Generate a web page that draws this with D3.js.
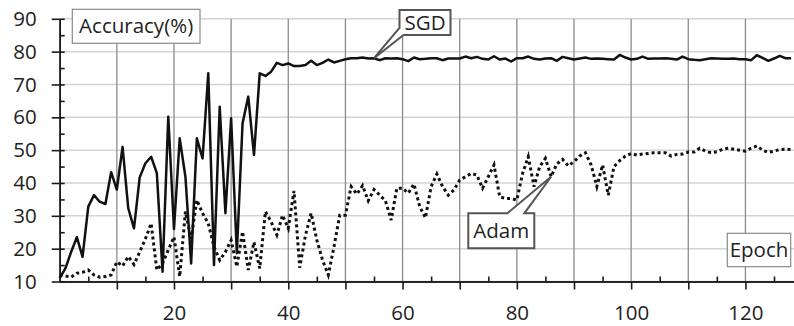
<!DOCTYPE html>
<html>
<head>
<meta charset="utf-8">
<script src="https://cdn.jsdelivr.net/npm/d3@7"></script>
<style>
  body { margin: 0; background: #fff; }
  svg { display: block; font-family: "Open Sans", "Noto Sans", sans-serif; }
</style>
</head>
<body>
<svg id="chart" width="794" height="326"></svg>
<script>
// accuracy per epoch
const sgd = [11, 14, 19, 23.5, 17.5, 32.8, 36.3, 34.3, 33.6, 43.3, 38, 51, 32.3, 26.2, 41.7, 46, 48, 43, 13, 60.2,
  26, 53.6, 41.9, 15.5, 53.6, 47.5, 73.4, 15, 63.2, 30.8, 59.7, 18.6, 58.2, 66.3, 48.5, 73.4, 72.6, 73.9, 76.6, 75.9,
  76.4, 75.6, 75.6, 75.9, 77.2, 75.9, 76.6, 77.6, 76.7, 77.2, 77.7, 78, 78, 78.2, 77.9, 78, 77.4, 78, 77.9, 78,
  77.7, 77.1, 78.2, 77.7, 77.8, 78, 78, 77.4, 77.9, 77.9, 77.9, 78.5, 78, 78.4, 77.8, 77.6, 78.6, 77.6, 77.9, 77,
  78, 78, 78.5, 77.8, 77.6, 77.9, 78, 77.2, 78.4, 78, 77.6, 77.9, 78.2, 77.8, 77.9, 77.8, 77.7, 77.6, 79, 78.2,
  77.6, 77.8, 78.5, 77.8, 77.9, 77.9, 78, 77.8, 77.6, 78.5, 77.7, 77.5, 77.4, 77.7, 78, 77.9, 77.8, 77.8, 77.9, 77.7,
  77.7, 77.4, 78.9, 78.1, 77.2, 77.9, 78.7, 78, 78];
const adam = [12, 11.7, 11.3, 12.5, 12.8, 13.5, 12, 11.3, 11.5, 12, 16, 14.7, 17.6, 15.2, 19, 23, 27.7, 13.5, 15.5, 19.6,
  23.6, 11.5, 31.3, 23, 34.8, 30.8, 27.7, 20.6, 16.5, 19, 22.6, 14.5, 25.2, 13.5, 22, 14, 31.3, 28.2, 24.2, 30.2,
  26.2, 37.6, 14.2, 24, 30.8, 22.6, 16.5, 12, 20.6, 30.2, 30.2, 38.9, 36.6, 39.2, 34.6, 38, 36.3, 34.6, 28.7, 38.4,
  38.4, 36.9, 39.7, 32.8, 29.4, 38.9, 42.7, 38.9, 36.3, 37.9, 40.9, 41.9, 42.9, 42.4, 38.4, 41.9, 45.5, 35.8, 35.3, 35.3,
  34.8, 42.9, 48, 38.9, 45, 47.5, 41.9, 45.8, 47.2, 45.2, 46.5, 48.2, 49.2, 45.5, 38.9, 45.5, 36.3, 45, 46.8, 48.2,
  49, 48.5, 48.8, 49, 49.2, 49.2, 49.2, 48.2, 48.7, 48.8, 49.4, 49.4, 50.6, 49.7, 49.2, 49.5, 50.3, 50.6, 50.3, 50,
  49.7, 50.6, 51.3, 50, 49.3, 49.7, 50.2, 50.3, 50.2];
const epochs = sgd.map((d, i) => i);
const yTicks = [10, 20, 30, 40, 50, 60, 70, 80, 90];
const yMinor = [15, 25, 35, 45, 55, 65, 75, 85];
const xTicks = [10, 20, 30, 40, 50, 60, 70, 80, 90, 100, 110, 120];
const xLabels = [20, 40, 60, 80, 100, 120];
const xMinor = [5, 15, 25, 35, 45, 55, 65, 75, 85, 95, 105, 115, 125];

const svg = d3.select('#chart');
const plotL = 59.7, plotR = 794, plotT = 18.8, plotB = 281.5;
const fs = 20.5;

const x = d3.scaleLinear().domain([0, 128.5]).range([plotL, plotR]);
const y = d3.scaleLinear().domain([10, 90]).range([plotB, plotT]);

// grid
svg.append('g').selectAll('line').data(yTicks).join('line')
  .attr('x1', plotL).attr('x2', plotR)
  .attr('y1', d => y(d)).attr('y2', d => y(d))
  .attr('stroke', '#d4d4d4').attr('stroke-width', 1.5);
svg.append('g').selectAll('line').data(xTicks).join('line')
  .attr('x1', d => x(d)).attr('x2', d => x(d))
  .attr('y1', plotT).attr('y2', plotB)
  .attr('stroke', '#8c8c8c').attr('stroke-width', 1.3);

// axes
const yAxis = svg.append('g').attr('transform', `translate(${plotL},0)`)
  .call(d3.axisLeft(y).tickValues(yTicks).tickSize(8).tickPadding(15).tickSizeOuter(0));
const yIn = svg.append('g').attr('transform', `translate(${plotL},0)`)
  .call(d3.axisRight(y).tickValues(yTicks.concat(yMinor)).tickSize(5).tickFormat('').tickSizeOuter(0));
const xAxis = svg.append('g').attr('transform', `translate(0,${plotB})`)
  .call(d3.axisBottom(x).tickValues(xTicks).tickSize(8).tickPadding(16).tickSizeOuter(0)
    .tickFormat(d => xLabels.includes(d) ? d : ''));
const xIn = svg.append('g').attr('transform', `translate(0,${plotB})`)
  .call(d3.axisTop(x).tickValues(xMinor).tickSize(5).tickFormat('').tickSizeOuter(0));

[yAxis, yIn, xAxis, xIn].forEach(g => {
  g.selectAll('path,line').attr('stroke', '#1a1a1a').attr('stroke-width', 1.6);
  g.selectAll('text').attr('font-size', fs).attr('fill', '#222')
    .attr('font-family', '"Open Sans", "Noto Sans", sans-serif');
});

// series
const line = d3.line().x((d, i) => x(epochs[i])).y(d => y(d));
svg.append('path').attr('d', line(adam))
  .attr('fill', 'none').attr('stroke', '#111').attr('stroke-width', 3)
  .attr('stroke-dasharray', '3,3');
svg.append('path').attr('d', line(sgd))
  .attr('fill', 'none').attr('stroke', '#111').attr('stroke-width', 2.5)
  .attr('stroke-linejoin', 'round');

// plain label boxes
function box(x0, y0, w, h, txt, stroke, sw) {
  svg.append('rect').attr('x', x0).attr('y', y0).attr('width', w).attr('height', h)
    .attr('fill', '#fff').attr('stroke', stroke).attr('stroke-width', sw);
  svg.append('text').attr('x', x0 + w / 2).attr('y', y0 + h / 2).attr('dy', '0.35em')
    .attr('text-anchor', 'middle').attr('font-size', fs).attr('fill', '#222').text(txt);
}
box(72.3, 9.3, 127.7, 34, 'Accuracy(%)', '#8a8a8a', 1.2);
box(727.3, 233.3, 63.4, 33.4, 'Epoch', '#8a8a8a', 1.2);

// callouts
function callout(x0, y0, w, h, pts, txt) {
  const p = d3.path();
  p.moveTo(pts[0][0], pts[0][1]);
  pts.slice(1).forEach(q => p.lineTo(q[0], q[1]));
  p.closePath();
  svg.append('path').attr('d', p.toString())
    .attr('fill', '#fff').attr('stroke', '#555').attr('stroke-width', 2).attr('stroke-linejoin', 'miter');
  svg.append('text').attr('x', x0 + w / 2).attr('y', y0 + h / 2).attr('dy', '0.35em')
    .attr('text-anchor', 'middle').attr('font-size', fs).attr('fill', '#222').text(txt);
}
// SGD box with tail down-left to epoch 55
{
  const bx = 399.5, by = 10, bw = 51, bh = 25;
  const tip = [x(epochs[55]), y(sgd[55])];
  callout(bx, by, bw, bh, [[bx, by], [bx + bw, by], [bx + bw, by + bh], [bx + 4, by + bh], tip, [bx, by + bh - 7]], 'SGD');
}
// Adam box with tail up-right to epoch 86
{
  const bx = 468.3, by = 213.3, bw = 66, bh = 35;
  const tip = [x(epochs[86]), y(adam[86])];
  callout(bx, by, bw, bh, [[bx, by], [bx + 39, by], tip, [bx + 56, by], [bx + bw, by], [bx + bw, by + bh], [bx, by + bh]], 'Adam');
}
</script>
</body>
</html>
